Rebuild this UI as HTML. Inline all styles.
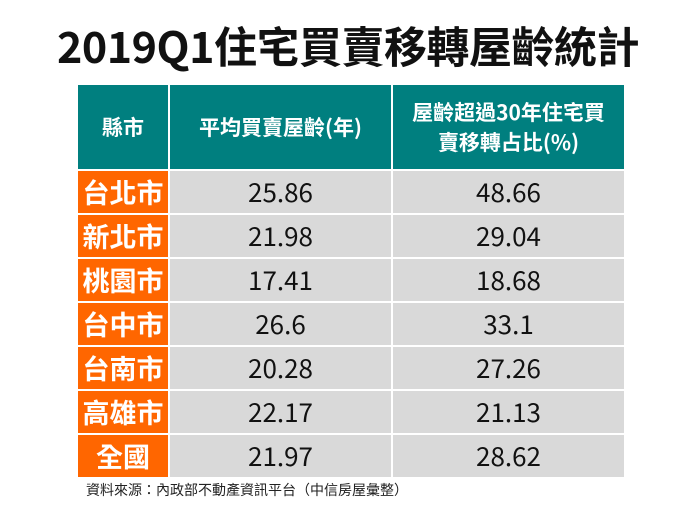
<!DOCTYPE html>
<html><head><meta charset="utf-8"><style>
body{margin:0;width:696px;height:522px;background:#fff;font-family:"Noto Sans CJK TC",sans-serif;position:relative;overflow:hidden}
.t{position:absolute;left:0;width:696px;top:18px;text-align:center;font-size:43px;font-weight:bold;color:#111;line-height:54px;letter-spacing:-0.5px}
table{position:absolute;left:78px;top:85px;border-collapse:collapse;width:548px}
td{border:2px solid #fff;text-align:center;padding:0;font-size:26px;color:#111;background:#d9d9d9;height:42px;line-height:30px}
tr:first-child td{background:#007f7f;color:#fff;font-size:21px;font-weight:bold;height:84px;line-height:30px}
td.o{background:#ff6600;color:#fff;font-weight:bold;font-size:27px}
tr:first-child td{border-top:0}
td:first-child{border-left:0}
.f{position:absolute;left:86px;top:480px;font-size:14px;color:#222;line-height:20px}
</style></head><body>
<div class="t">2019Q1住宅買賣移轉屋齡統計</div>
<table>
<tr><td style="width:90px">縣市</td><td style="width:221px">平均買賣屋齡(年)</td><td>屋齡超過30年住宅買<br>賣移轉占比(%)</td></tr>
<tr><td class="o">台北市</td><td>25.86</td><td>48.66</td></tr>
<tr><td class="o">新北市</td><td>21.98</td><td>29.04</td></tr>
<tr><td class="o">桃園市</td><td>17.41</td><td>18.68</td></tr>
<tr><td class="o">台中市</td><td>26.6</td><td>33.1</td></tr>
<tr><td class="o">台南市</td><td>20.28</td><td>27.26</td></tr>
<tr><td class="o">高雄市</td><td>22.17</td><td>21.13</td></tr>
<tr><td class="o">全國</td><td>21.97</td><td>28.62</td></tr>
</table>
<div class="f">資料來源：內政部不動產資訊平台（中信房屋彙整）</div>
</body></html>
